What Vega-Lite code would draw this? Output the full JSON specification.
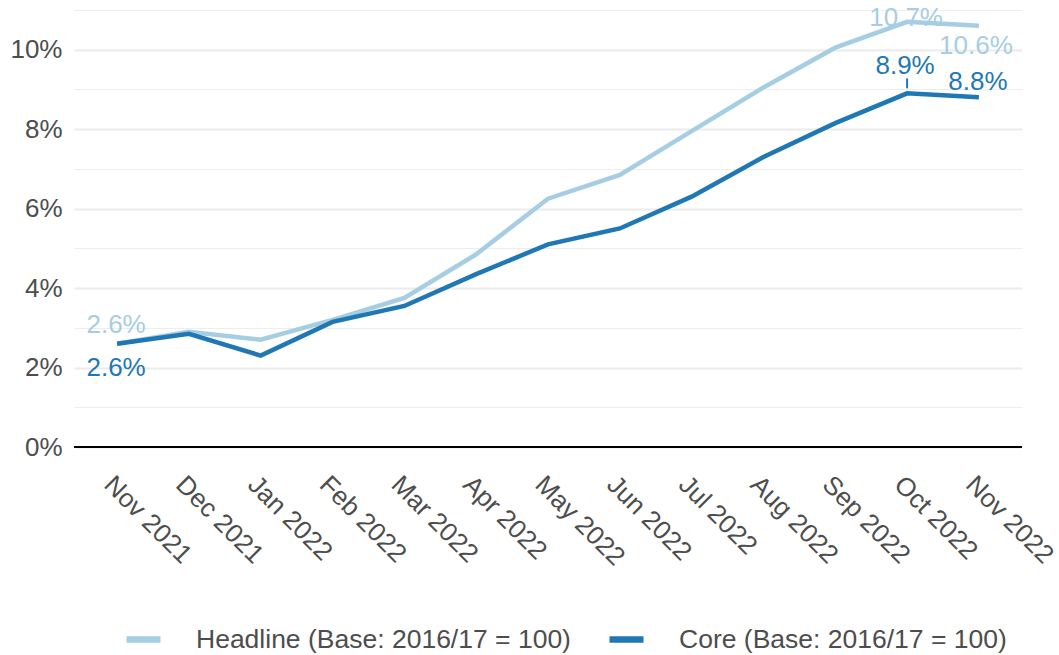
{
  "$schema": "https://vega.github.io/schema/vega-lite/v6.json",
  "width": 948,
  "height": 447,
  "autosize": {"type": "none"},
  "padding": {"left": 74, "top": 0, "right": 37, "bottom": 208},
  "background": "white",
  "config": {
    "view": {"stroke": null},
    "font": "Liberation Sans",
    "text": {"font": "Liberation Sans", "fontSize": 26, "align": "center", "baseline": "middle"}
  },
  "datasets": {
    "cpi": [
      {"month": "Nov 2021", "series": "Headline (Base: 2016/17 = 100)", "value": 0.026},
      {"month": "Dec 2021", "series": "Headline (Base: 2016/17 = 100)", "value": 0.029},
      {"month": "Jan 2022", "series": "Headline (Base: 2016/17 = 100)", "value": 0.027},
      {"month": "Feb 2022", "series": "Headline (Base: 2016/17 = 100)", "value": 0.032},
      {"month": "Mar 2022", "series": "Headline (Base: 2016/17 = 100)", "value": 0.0375},
      {"month": "Apr 2022", "series": "Headline (Base: 2016/17 = 100)", "value": 0.0485},
      {"month": "May 2022", "series": "Headline (Base: 2016/17 = 100)", "value": 0.0625},
      {"month": "Jun 2022", "series": "Headline (Base: 2016/17 = 100)", "value": 0.0685},
      {"month": "Jul 2022", "series": "Headline (Base: 2016/17 = 100)", "value": 0.0795},
      {"month": "Aug 2022", "series": "Headline (Base: 2016/17 = 100)", "value": 0.0905},
      {"month": "Sep 2022", "series": "Headline (Base: 2016/17 = 100)", "value": 0.1005},
      {"month": "Oct 2022", "series": "Headline (Base: 2016/17 = 100)", "value": 0.107},
      {"month": "Nov 2022", "series": "Headline (Base: 2016/17 = 100)", "value": 0.106},
      {"month": "Nov 2021", "series": "Core (Base: 2016/17 = 100)", "value": 0.026},
      {"month": "Dec 2021", "series": "Core (Base: 2016/17 = 100)", "value": 0.0285},
      {"month": "Jan 2022", "series": "Core (Base: 2016/17 = 100)", "value": 0.023},
      {"month": "Feb 2022", "series": "Core (Base: 2016/17 = 100)", "value": 0.0315},
      {"month": "Mar 2022", "series": "Core (Base: 2016/17 = 100)", "value": 0.0355},
      {"month": "Apr 2022", "series": "Core (Base: 2016/17 = 100)", "value": 0.0435},
      {"month": "May 2022", "series": "Core (Base: 2016/17 = 100)", "value": 0.051},
      {"month": "Jun 2022", "series": "Core (Base: 2016/17 = 100)", "value": 0.055},
      {"month": "Jul 2022", "series": "Core (Base: 2016/17 = 100)", "value": 0.063},
      {"month": "Aug 2022", "series": "Core (Base: 2016/17 = 100)", "value": 0.073},
      {"month": "Sep 2022", "series": "Core (Base: 2016/17 = 100)", "value": 0.0815},
      {"month": "Oct 2022", "series": "Core (Base: 2016/17 = 100)", "value": 0.089},
      {"month": "Nov 2022", "series": "Core (Base: 2016/17 = 100)", "value": 0.088}
    ]
  },
  "data": {"name": "cpi"},
  "layer": [
    {
      "data": {"values": [{"baseline": 0}]},
      "mark": {"type": "rule", "color": "#000000", "strokeWidth": 2.2},
      "encoding": {"y": {"field": "baseline", "type": "quantitative"}}
    },
    {
      "mark": {"type": "line", "strokeWidth": 4.5, "strokeJoin": "miter", "strokeCap": "butt"},
      "encoding": {
        "x": {
          "field": "month",
          "type": "ordinal",
          "sort": ["Nov 2021", "Dec 2021", "Jan 2022", "Feb 2022", "Mar 2022", "Apr 2022", "May 2022", "Jun 2022", "Jul 2022", "Aug 2022", "Sep 2022", "Oct 2022", "Nov 2022"],
          "scale": {"type": "point", "padding": 0.6},
          "axis": {
            "title": null,
            "domain": false,
            "ticks": false,
            "grid": false,
            "labelAngle": 45,
            "labelAlign": "left",
            "labelBaseline": "top",
            "labelPadding": 24,
            "labelFontSize": 26,
            "labelColor": "#4d4d4d",
            "labelFont": "Liberation Sans"
          }
        },
        "y": {
          "field": "value",
          "type": "quantitative",
          "scale": {"domain": [0, 0.1125], "nice": false, "zero": true},
          "axis": {
            "title": null,
            "domain": false,
            "ticks": false,
            "values": [0, 0.01, 0.02, 0.03, 0.04, 0.05, 0.06, 0.07, 0.08, 0.09, 0.1, 0.11],
            "labelExpr": "round(datum.value * 100) % 2 == 0 ? format(datum.value, '.0%') : ''",
            "labelPadding": 12,
            "labelFontSize": 26,
            "labelColor": "#4d4d4d",
            "labelFont": "Liberation Sans",
            "grid": true,
            "gridColor": "#ebebeb",
            "gridWidth": {"condition": {"test": "round(datum.value * 100) % 2 == 0", "value": 1.8}, "value": 0.9}
          }
        },
        "color": {
          "field": "series",
          "type": "nominal",
          "sort": ["Headline (Base: 2016/17 = 100)", "Core (Base: 2016/17 = 100)"],
          "scale": {
            "domain": ["Headline (Base: 2016/17 = 100)", "Core (Base: 2016/17 = 100)"],
            "range": ["#a6cee3", "#1f78b4"]
          },
          "legend": {
            "title": null,
            "orient": "none",
            "legendX": 49,
            "legendY": 619,
            "direction": "horizontal",
            "symbolType": "stroke",
            "symbolSize": 1156,
            "symbolStrokeWidth": 6.5,
            "labelFontSize": 26.5,
            "labelFont": "Liberation Sans",
            "labelColor": "#4d4d4d",
            "labelOffset": 32,
            "columnPadding": 25,
            "labelLimit": 600
          }
        }
      }
    },
    {
      "transform": [{"filter": "datum.month == 'Oct 2022' && datum.series == 'Core (Base: 2016/17 = 100)'"}],
      "mark": {"type": "rule", "color": "#1f78b4", "strokeWidth": 2, "yOffset": -5, "y2Offset": -15},
      "encoding": {
        "x": {"field": "month", "type": "ordinal", "sort": ["Nov 2021", "Dec 2021", "Jan 2022", "Feb 2022", "Mar 2022", "Apr 2022", "May 2022", "Jun 2022", "Jul 2022", "Aug 2022", "Sep 2022", "Oct 2022", "Nov 2022"]},
        "y": {"field": "value", "type": "quantitative"},
        "y2": {"field": "value"}
      }
    },
    {
      "transform": [{"filter": "datum.month == 'Nov 2021' && datum.series == 'Headline (Base: 2016/17 = 100)'"}],
      "mark": {"type": "text", "color": "#a6cee3", "dx": -1, "dy": -19},
      "encoding": {
        "x": {"field": "month", "type": "ordinal", "sort": ["Nov 2021", "Dec 2021", "Jan 2022", "Feb 2022", "Mar 2022", "Apr 2022", "May 2022", "Jun 2022", "Jul 2022", "Aug 2022", "Sep 2022", "Oct 2022", "Nov 2022"]},
        "y": {"field": "value", "type": "quantitative"},
        "text": {"field": "value", "type": "quantitative", "format": ".1%"}
      }
    },
    {
      "transform": [{"filter": "datum.month == 'Nov 2021' && datum.series == 'Core (Base: 2016/17 = 100)'"}],
      "mark": {"type": "text", "color": "#1f78b4", "dx": -1, "dy": 24},
      "encoding": {
        "x": {"field": "month", "type": "ordinal", "sort": ["Nov 2021", "Dec 2021", "Jan 2022", "Feb 2022", "Mar 2022", "Apr 2022", "May 2022", "Jun 2022", "Jul 2022", "Aug 2022", "Sep 2022", "Oct 2022", "Nov 2022"]},
        "y": {"field": "value", "type": "quantitative"},
        "text": {"field": "value", "type": "quantitative", "format": ".1%"}
      }
    },
    {
      "transform": [{"filter": "datum.month == 'Oct 2022' && datum.series == 'Headline (Base: 2016/17 = 100)'"}],
      "mark": {"type": "text", "color": "#a6cee3", "dx": -1, "dy": -4},
      "encoding": {
        "x": {"field": "month", "type": "ordinal", "sort": ["Nov 2021", "Dec 2021", "Jan 2022", "Feb 2022", "Mar 2022", "Apr 2022", "May 2022", "Jun 2022", "Jul 2022", "Aug 2022", "Sep 2022", "Oct 2022", "Nov 2022"]},
        "y": {"field": "value", "type": "quantitative"},
        "text": {"field": "value", "type": "quantitative", "format": ".1%"}
      }
    },
    {
      "transform": [{"filter": "datum.month == 'Nov 2022' && datum.series == 'Headline (Base: 2016/17 = 100)'"}],
      "mark": {"type": "text", "color": "#a6cee3", "dx": -3, "dy": 20},
      "encoding": {
        "x": {"field": "month", "type": "ordinal", "sort": ["Nov 2021", "Dec 2021", "Jan 2022", "Feb 2022", "Mar 2022", "Apr 2022", "May 2022", "Jun 2022", "Jul 2022", "Aug 2022", "Sep 2022", "Oct 2022", "Nov 2022"]},
        "y": {"field": "value", "type": "quantitative"},
        "text": {"field": "value", "type": "quantitative", "format": ".1%"}
      }
    },
    {
      "transform": [{"filter": "datum.month == 'Oct 2022' && datum.series == 'Core (Base: 2016/17 = 100)'"}],
      "mark": {"type": "text", "color": "#1f78b4", "dx": -2, "dy": -27},
      "encoding": {
        "x": {"field": "month", "type": "ordinal", "sort": ["Nov 2021", "Dec 2021", "Jan 2022", "Feb 2022", "Mar 2022", "Apr 2022", "May 2022", "Jun 2022", "Jul 2022", "Aug 2022", "Sep 2022", "Oct 2022", "Nov 2022"]},
        "y": {"field": "value", "type": "quantitative"},
        "text": {"field": "value", "type": "quantitative", "format": ".1%"}
      }
    },
    {
      "transform": [{"filter": "datum.month == 'Nov 2022' && datum.series == 'Core (Base: 2016/17 = 100)'"}],
      "mark": {"type": "text", "color": "#1f78b4", "dx": -1, "dy": -15},
      "encoding": {
        "x": {"field": "month", "type": "ordinal", "sort": ["Nov 2021", "Dec 2021", "Jan 2022", "Feb 2022", "Mar 2022", "Apr 2022", "May 2022", "Jun 2022", "Jul 2022", "Aug 2022", "Sep 2022", "Oct 2022", "Nov 2022"]},
        "y": {"field": "value", "type": "quantitative"},
        "text": {"field": "value", "type": "quantitative", "format": ".1%"}
      }
    }
  ]
}
